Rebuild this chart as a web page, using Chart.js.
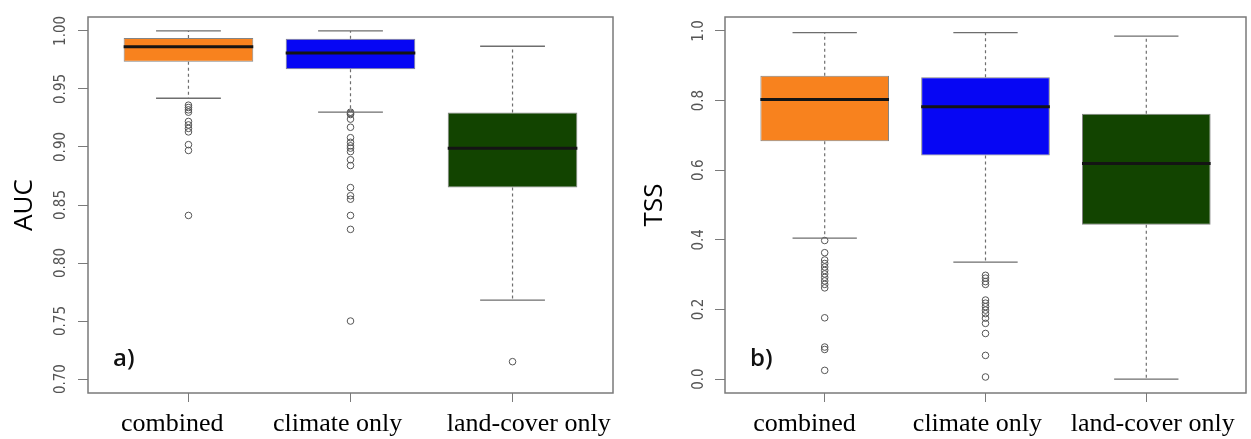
<!DOCTYPE html>
<html lang="en">
  <head>
    <meta charset="UTF-8" />
    <meta name="viewport" content="width=device-width, initial-scale=1.0" />
    <script src="https://cdn.jsdelivr.net/npm/chart.js@4.4.1/dist/chart.umd.min.js"></script>
    <title>AUC and TSS by predictor set</title>
    <style>
      body { margin: 0; background: #fff; }
      #wrap { position: relative; width: 1251px; height: 439px; }
      canvas { position: absolute; top: 0; }
      #aucChart { left: 0; }
      #tssChart { left: 626px; }
    </style>
  </head>
  <body>
    <div id="wrap">
      <canvas id="aucChart" width="625" height="439"></canvas>
      <canvas id="tssChart" width="625" height="439"></canvas>
    </div>
    <script>
      const groups = ["combined", "climate only", "land-cover only"];
      const groupColors = ["#f8821e", "#0606f4", "#124400"];

      // AUC boxplot stats (whisker ends, quartiles, median) per group
      const aucLow = [0.942, 0.930, 0.768];
      const aucQ1 = [0.9735, 0.967, 0.865];
      const aucMed = [0.9864, 0.981, 0.899];
      const aucQ3 = [0.994, 0.9932, 0.9297];
      const aucHigh = [1.0, 1.0, 0.9868];
      const aucOut = [
        [0.936, 0.934, 0.932, 0.930, 0.922, 0.919, 0.916, 0.913, 0.902, 0.897, 0.841],
        [0.930, 0.929, 0.928, 0.924, 0.917, 0.908, 0.904, 0.901, 0.899, 0.896, 0.889,
         0.884, 0.865, 0.858, 0.855, 0.841, 0.829, 0.750],
        [0.715]
      ];
      const aucTicks = [0.7, 0.75, 0.8, 0.85, 0.9, 0.95, 1.0];

      // TSS boxplot stats
      const tssLow = [0.405, 0.336, 0.0];
      const tssQ1 = [0.683, 0.642, 0.443];
      const tssMed = [0.803, 0.782, 0.619];
      const tssQ3 = [0.871, 0.867, 0.762];
      const tssHigh = [0.995, 0.995, 0.985];
      const tssOut = [
        [0.398, 0.363, 0.342, 0.332, 0.322, 0.312, 0.302, 0.292, 0.282, 0.272, 0.262,
         0.176, 0.092, 0.085, 0.025],
        [0.298, 0.290, 0.280, 0.272, 0.227, 0.218, 0.208, 0.198, 0.188, 0.175, 0.160,
         0.131, 0.068, 0.006],
        []
      ];
      const tssTicks = [0, 0.2, 0.4, 0.6, 0.8, 1.0];

      const framePlugin = {
        id: "frame",
        afterDraw(chart, args, opts) {
          const { ctx, chartArea: a } = chart;
          ctx.save();
          ctx.strokeStyle = "#7a7a7a";
          ctx.lineWidth = 1.5;
          ctx.strokeRect(a.left, a.top, a.right - a.left, a.bottom - a.top);
          ctx.fillStyle = "#111";
          ctx.font = '600 24px "Open Sans"';
          ctx.textBaseline = "middle";
          ctx.fillText(opts.letter, a.left + 25, a.bottom - 34);
          ctx.restore();
        },
      };

      function boxChart(id, s) {
        const cx = groups.map((g, i) => i + 1);
        const medians = [], caps = [], stems = [], points = [];
        cx.forEach((x, i) => {
          medians.push({ x: x - 0.4, y: s.med[i] }, { x: x + 0.4, y: s.med[i] }, { x, y: null });
          caps.push(
            { x: x - 0.2, y: s.high[i] }, { x: x + 0.2, y: s.high[i] }, { x, y: null },
            { x: x - 0.2, y: s.low[i] }, { x: x + 0.2, y: s.low[i] }, { x, y: null }
          );
          stems.push(
            { x, y: s.q3[i] }, { x, y: s.high[i] }, { x, y: null },
            { x, y: s.q1[i] }, { x, y: s.low[i] }, { x, y: null }
          );
          s.out[i].forEach((v) => points.push({ x, y: v }));
        });

        const xMin = 0.38, xMax = 3.62;
        const line = { type: "line", pointRadius: 0, spanGaps: false, fill: false, xAxisID: "x" };

        return new Chart(document.getElementById(id), {
          type: "bar",
          data: {
            datasets: [
              { ...line, data: medians, borderColor: "#141414", borderWidth: 3, borderCapStyle: "butt", order: 1 },
              { ...line, data: caps, borderColor: "#6e6e6e", borderWidth: 1.3, order: 2 },
              { ...line, data: stems, borderColor: "#6e6e6e", borderWidth: 1.2, borderDash: [3, 3], order: 3 },
              {
                ...line, data: points, showLine: false, pointRadius: 3.3, pointBorderWidth: 1,
                pointBorderColor: "#555", pointBackgroundColor: "rgba(0,0,0,0)", order: 4,
              },
              {
                type: "bar", xAxisID: "x",
                data: cx.map((x, i) => ({ x, y: [s.q1[i], s.q3[i]] })),
                backgroundColor: groupColors, borderColor: "rgba(50,50,50,0.6)",
                borderWidth: 1, borderSkipped: false,
                categoryPercentage: 1, barPercentage: 0.8, order: 5,
              },
            ],
          },
          options: {
            responsive: false,
            animation: false,
            events: [],
            layout: { padding: { top: 17, right: s.padRight, left: 0, bottom: 0 } },
            plugins: { legend: { display: false }, tooltip: { enabled: false }, frame: { letter: s.letter } },
            scales: {
              x: {
                type: "linear", min: xMin, max: xMax, bounds: "data", offset: false,
                grid: { offset: false, drawOnChartArea: false, color: "#7a7a7a", tickLength: 9 },
                border: { display: false },
                ticks: { display: false },
                afterBuildTicks: (sc) => { sc.ticks = cx.map((v) => ({ value: v })); },
                afterFit: (sc) => { sc.height = 10; },
              },
              xl: {
                type: "linear", position: "bottom", weight: 1,
                min: xMin, max: xMax, bounds: "data", offset: false,
                grid: { display: false },
                border: { display: false },
                ticks: {
                  autoSkip: false, maxRotation: 0, minRotation: 0, padding: -2, color: "#000",
                  font: { family: '"Liberation Serif", "Times New Roman", serif', size: 26 },
                  callback: (v, i) => groups[i],
                },
                afterBuildTicks: (sc) => { sc.ticks = s.labelAt.map((v) => ({ value: v })); },
                afterFit: (sc) => { sc.height = 36; },
              },
              y: {
                type: "linear", min: s.range[0], max: s.range[1], bounds: "data",
                grid: { drawOnChartArea: false, color: "#7a7a7a", tickLength: 10 },
                border: { display: false },
                ticks: {
                  minRotation: 90, maxRotation: 90, crossAlign: "center", padding: s.tickPad, color: "#555",
                  font: { family: '"Liberation Sans Narrow", "DejaVu Sans Condensed", "Liberation Sans", sans-serif', size: 15 },
                  callback: (v) => v.toFixed(s.decimals),
                },
                afterBuildTicks: (sc) => { sc.ticks = s.ticks.map((v) => ({ value: v })); },
                title: {
                  display: true, text: s.title, color: "#000",
                  font: { family: '"Open Sans", sans-serif', size: 26 },
                  padding: { top: s.titlePad, bottom: 0 },
                },
                afterFit: (sc) => { sc.width = s.axisWidth; },
              },
            },
          },
          plugins: [framePlugin],
        });
      }

      boxChart("aucChart", {
        low: aucLow, q1: aucQ1, med: aucMed, q3: aucQ3, high: aucHigh, out: aucOut,
        ticks: aucTicks, range: [0.688, 1.012], decimals: 2, title: "AUC", letter: "a)",
        labelAt: [0.90, 1.92, 3.10], axisWidth: 88, titlePad: 9, padRight: 12, tickPad: 2,
      });

      boxChart("tssChart", {
        low: tssLow, q1: tssQ1, med: tssMed, q3: tssQ3, high: tssHigh, out: tssOut,
        ticks: tssTicks, range: [-0.04, 1.04], decimals: 1, title: "TSS", letter: "b)",
        labelAt: [0.875, 1.95, 3.04], axisWidth: 99, titlePad: 13, padRight: 2, tickPad: 5,
      });
    </script>
  </body>
</html>
